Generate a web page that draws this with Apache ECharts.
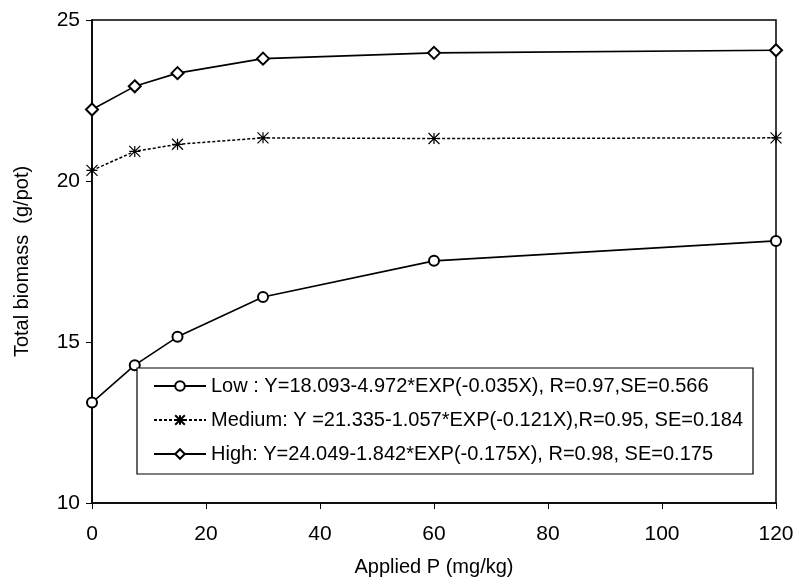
<!DOCTYPE html>
<html>
<head>
<meta charset="utf-8">
<script src="https://cdn.jsdelivr.net/npm/echarts@6/dist/echarts.min.js"></script>
<style>
  html, body { margin: 0; padding: 0; background: #fff; }
  #main { width: 799px; height: 585px; }
</style>
</head>
<body>
<div id="main"></div>
<script>
const appliedP = [0, 7.5, 15, 30, 60, 120];
const lowValues = [13.12, 14.28, 15.16, 16.4, 17.52, 18.14];
const mediumValues = [20.33, 20.92, 21.14, 21.34, 21.32, 21.34];
const highValues = [22.22, 22.94, 23.35, 23.8, 23.98, 24.06];
const seriesNames = [
  'Low : Y=18.093-4.972*EXP(-0.035X), R=0.97,SE=0.566',
  'Medium: Y =21.335-1.057*EXP(-0.121X),R=0.95, SE=0.184',
  'High: Y=24.049-1.842*EXP(-0.175X), R=0.98, SE=0.175'
];

const font = 'Liberation Sans';
const pairs = (ys) => appliedP.map((x, i) => [x, ys[i]]);

const myChart = echarts.init(document.getElementById('main'));

const option = {
  backgroundColor: '#fff',
  animation: false,
  textStyle: { fontFamily: font, color: '#000' },
  grid: {
    left: 92,
    right: 23,
    top: 20,
    bottom: 82,
    show: true,
    borderColor: '#000',
    borderWidth: 1.5
  },
  legend: {
    orient: 'vertical',
    left: 137,
    top: 368,
    padding: [8, 10, 10, 16],
    itemGap: 14,
    itemWidth: 52,
    itemHeight: 12,
    borderColor: '#000',
    borderWidth: 1.2,
    backgroundColor: '#fff',
    textStyle: { fontFamily: font, fontSize: 20, color: '#000' },
    data: seriesNames
  },
  xAxis: {
    type: 'value',
    min: 0,
    max: 120,
    interval: 20,
    name: 'Applied P (mg/kg)',
    nameLocation: 'middle',
    nameGap: 54,
    nameTextStyle: { fontSize: 20, color: '#000' },
    axisLine: { lineStyle: { color: '#000', width: 1.5 } },
    axisTick: { show: true, length: 6, lineStyle: { color: '#000' } },
    axisLabel: { fontSize: 21, color: '#000', margin: 21 },
    splitLine: { show: false }
  },
  yAxis: {
    type: 'value',
    min: 10,
    max: 25,
    interval: 5,
    name: 'Total biomass  (g/pot)',
    nameLocation: 'middle',
    nameGap: 60,
    nameTextStyle: { fontSize: 20, color: '#000' },
    axisLine: { show: true, lineStyle: { color: '#000', width: 1.5 } },
    axisTick: { show: true, length: 6, lineStyle: { color: '#000' } },
    axisLabel: { fontSize: 21, color: '#000', margin: 12 },
    splitLine: { show: false }
  },
  series: [
    {
      name: seriesNames[0],
      type: 'line',
      data: pairs(lowValues),
      symbol: 'emptyCircle',
      symbolSize: 10,
      lineStyle: { color: '#000', width: 1.6 },
      itemStyle: { color: '#000', borderWidth: 1.5 }
    },
    {
      name: seriesNames[1],
      type: 'line',
      data: pairs(mediumValues),
      symbol: 'path://M0,0L10,10M10,0L0,10M5,0L5,10M0,5L10,5',
      symbolSize: 11,
      lineStyle: { color: '#000', width: 1.5, type: [3, 2] },
      itemStyle: { color: '#000', borderColor: '#000', borderWidth: 1.2 }
    },
    {
      name: seriesNames[2],
      type: 'line',
      data: pairs(highValues),
      symbol: 'emptyDiamond',
      symbolSize: 12,
      lineStyle: { color: '#000', width: 1.6 },
      itemStyle: { color: '#000', borderWidth: 1.5 }
    }
  ]
};

myChart.setOption(option);
</script>
</body>
</html>
